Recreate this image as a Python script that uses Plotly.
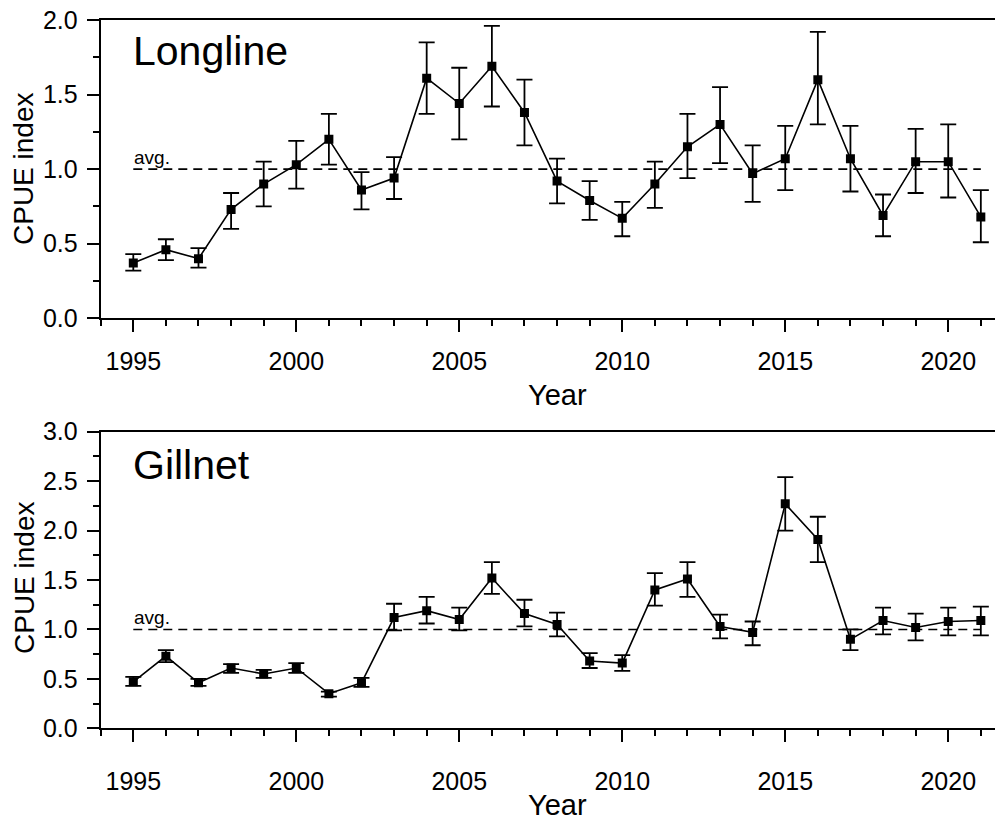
import plotly.graph_objects as go

years = list(range(1995, 2022))

# Longline CPUE index with asymmetric error bounds
ll_val = [0.37, 0.46, 0.40, 0.73, 0.90, 1.03, 1.20, 0.86, 0.94, 1.61, 1.44, 1.69, 1.38, 0.92, 0.79,
          0.67, 0.90, 1.15, 1.30, 0.97, 1.07, 1.60, 1.07, 0.69, 1.05, 1.05, 0.68]
ll_hi = [0.43, 0.53, 0.47, 0.84, 1.05, 1.19, 1.37, 0.98, 1.08, 1.85, 1.68, 1.96, 1.60, 1.07, 0.92,
         0.78, 1.05, 1.37, 1.55, 1.16, 1.29, 1.92, 1.29, 0.83, 1.27, 1.30, 0.86]
ll_lo = [0.32, 0.39, 0.34, 0.60, 0.75, 0.87, 1.03, 0.73, 0.80, 1.37, 1.20, 1.42, 1.16, 0.77, 0.66,
         0.55, 0.74, 0.94, 1.04, 0.78, 0.86, 1.30, 0.85, 0.55, 0.84, 0.81, 0.51]

# Gillnet CPUE index with asymmetric error bounds
gn_val = [0.47, 0.73, 0.46, 0.61, 0.55, 0.61, 0.35, 0.46, 1.12, 1.19, 1.10, 1.52, 1.16, 1.05, 0.68,
          0.66, 1.40, 1.51, 1.03, 0.97, 2.27, 1.91, 0.90, 1.09, 1.02, 1.08, 1.09]
gn_hi = [0.52, 0.79, 0.50, 0.65, 0.59, 0.66, 0.37, 0.51, 1.26, 1.33, 1.22, 1.68, 1.30, 1.17, 0.76,
         0.74, 1.57, 1.68, 1.15, 1.08, 2.54, 2.14, 1.00, 1.22, 1.16, 1.22, 1.23]
gn_lo = [0.43, 0.67, 0.43, 0.56, 0.51, 0.56, 0.32, 0.42, 0.99, 1.06, 0.99, 1.36, 1.03, 0.93, 0.61,
         0.58, 1.24, 1.33, 0.91, 0.84, 2.00, 1.68, 0.79, 0.95, 0.89, 0.94, 0.94]

avg_level = 1.0
panel_names = ["Longline", "Gillnet"]
y_maxes = [2.0, 3.0]
x_title = "Year"
y_title = "CPUE index"

W, H = 1003, 819
FONT = "Liberation Sans, Arial, sans-serif"

fig = go.Figure()

panels = [
    (ll_val, ll_hi, ll_lo, "x", "y"),
    (gn_val, gn_hi, gn_lo, "x2", "y2"),
]
for val, hi, lo, xa, ya in panels:
    # avg dashed line
    fig.add_trace(go.Scatter(
        x=[years[0], years[-1]], y=[avg_level, avg_level], mode="lines",
        line=dict(color="black", width=1.6, dash="9px,6px"),
        xaxis=xa, yaxis=ya, showlegend=False, hoverinfo="skip"))
    fig.add_trace(go.Scatter(
        x=years, y=val, mode="lines+markers",
        line=dict(color="black", width=1.6),
        marker=dict(symbol="square", size=9, color="black"),
        error_y=dict(type="data", symmetric=False,
                     array=[h - v for h, v in zip(hi, val)],
                     arrayminus=[v - l for v, l in zip(val, lo)],
                     color="black", thickness=1.8, width=8),
        xaxis=xa, yaxis=ya, showlegend=False))

# page body has an 8px margin: positions below are in figure pixels (screen - 8)
xdom = [92.7 / W, 995 / W]
xrange = [1994.0, 2021.68]
top_dom = [1 - 310.3 / H, 1 - 12 / H]
bot_dom = [1 - 720.3 / H, 1 - 423.7 / H]

def xaxis_cfg(anchor, standoff):
    return dict(domain=xdom, range=xrange, anchor=anchor, automargin=False,
                showline=True, linecolor="black", linewidth=2, mirror=True,
                ticks="outside", ticklen=12, tickwidth=1.8, tickcolor="black",
                tick0=1995, dtick=5, showgrid=False, zeroline=False,
                ticklabelstandoff=standoff, ticklabeloverflow="allow",
                tickfont=dict(family=FONT, size=25, color="black"),
                minor=dict(ticks="outside", ticklen=6, tickwidth=1.8, tickcolor="black",
                           tick0=1995, dtick=1, showgrid=False))

def yaxis_cfg(dom, ymax, anchor):
    return dict(domain=dom, range=[0, ymax], anchor=anchor, automargin=False,
                showline=True, linecolor="black", linewidth=2, mirror=False,
                ticks="outside", ticklen=12, tickwidth=1.8, tickcolor="black",
                tick0=0, dtick=0.5, tickformat=".1f", showgrid=False, zeroline=False,
                ticklabelstandoff=4, ticklabeloverflow="allow",
                tickfont=dict(family=FONT, size=25, color="black"),
                minor=dict(ticks="outside", ticklen=6, tickwidth=1.8, tickcolor="black",
                           tick0=0, dtick=0.25, showgrid=False))

fig.update_layout(
    width=W, height=H,
    margin=dict(l=0, r=0, t=0, b=0, autoexpand=False),
    paper_bgcolor="white", plot_bgcolor="white",
    font=dict(family=FONT, color="black"),
    xaxis=xaxis_cfg("y", 8),
    yaxis=yaxis_cfg(top_dom, y_maxes[0], "x"),
    xaxis2=xaxis_cfg("y2", 18),
    yaxis2=yaxis_cfg(bot_dom, y_maxes[1], "x2"),
)

ann = []
# panel labels
ann.append(dict(text=panel_names[0], x=123 / W, y=1 - 18 / H, xref="paper", yref="paper",
                yanchor="top", xanchor="left", showarrow=False,
                font=dict(family=FONT, size=41, color="black")))
ann.append(dict(text=panel_names[1], x=123 / W, y=1 - 432 / H, xref="paper", yref="paper",
                yanchor="top", xanchor="left", showarrow=False,
                font=dict(family=FONT, size=41, color="black")))
# avg labels
for ya in ("y", "y2"):
    ann.append(dict(text="avg.", x=124 / W, y=avg_level, xref="paper", yref=ya,
                    xanchor="left", yanchor="bottom", showarrow=False,
                    font=dict(family=FONT, size=19, color="black"), yshift=-1))
# axis titles
xc = 549 / W
ann.append(dict(text=x_title, x=xc, y=1 - 387 / H, xref="paper", yref="paper",
                xanchor="center", yanchor="middle", showarrow=False,
                font=dict(family=FONT, size=29, color="black")))
ann.append(dict(text=x_title, x=xc, y=1 - 797 / H, xref="paper", yref="paper",
                xanchor="center", yanchor="middle", showarrow=False,
                font=dict(family=FONT, size=29, color="black")))
ann.append(dict(text=y_title, x=16 / W, y=1 - 161 / H, xref="paper", yref="paper",
                xanchor="center", yanchor="middle", textangle=-90, showarrow=False,
                font=dict(family=FONT, size=28, color="black")))
ann.append(dict(text=y_title, x=16 / W, y=1 - 570 / H, xref="paper", yref="paper",
                xanchor="center", yanchor="middle", textangle=-90, showarrow=False,
                font=dict(family=FONT, size=28, color="black")))
fig.update_layout(annotations=ann)

fig.write_html("out.html")
